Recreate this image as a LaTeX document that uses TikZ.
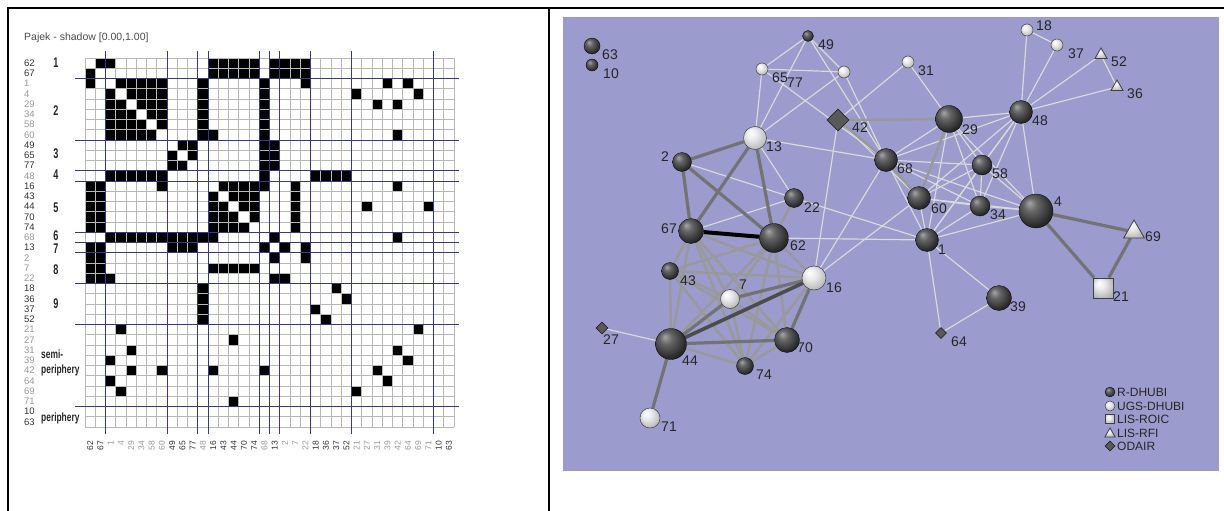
\documentclass[tikz,border=0pt]{standalone}
\usepackage{fontspec}
\setmainfont{Liberation Sans}
\usetikzlibrary{shapes.geometric,backgrounds}

\definecolor{panelbg}{RGB}{155,155,205}
\definecolor{sepblue}{RGB}{55,55,140}
\pgfdeclareradialshading{rballshade}{\pgfqpoint{-10bp}{12bp}}{color(0bp)=(black!35); color(10bp)=(black!60); color(28bp)=(black!85); color(50bp)=(black)}
\pgfdeclareradialshading{uballshade}{\pgfqpoint{-10bp}{12bp}}{color(0bp)=(white); color(12bp)=(black!8); color(32bp)=(black!30); color(50bp)=(black!50)}

\def\lightedges{62/1,67/22,1/4,1/29,1/34,1/58,1/60,1/48,1/68,1/22,1/39,1/64,
4/29,4/34,4/58,4/60,4/48,4/68,29/34,29/58,29/48,29/68,29/31,34/58,34/60,34/48,34/68,
58/60,58/48,58/68,60/48,60/16,60/42,49/65,49/77,49/68,49/13,65/77,65/68,65/13,77/68,77/13,
48/68,48/18,48/36,48/37,48/52,16/68,16/42,44/27,68/13,13/22,2/22,18/37,36/52,31/42,39/64}
\def\midedges{62/16,62/43,62/44,62/70,62/74,62/7,62/22,67/16,67/43,67/44,67/70,67/74,67/7,
43/16,43/44,43/70,43/74,44/74,70/74,16/74,7/43,7/70,7/74,42/29,42/68,29/60,68/60}
\def\darkedges{13/67,13/62,2/67,2/62,13/2,7/16,44/70,16/70,44/71,4/21,21/69,4/69,7/44}
\edef\alledges{\lightedges,\midedges,\darkedges,44/16,62/67}

\begin{document}
\begin{tikzpicture}[x=1pt,y=-1pt,
  cell/.style={fill=black},
  grid line/.style={draw=black!28,line width=0.6pt},
  sep line/.style={draw=sepblue,line width=0.9pt},
  shade0/.style={text=black!80},
  shade1/.style={text=black!40},
  row lbl/.style={font=\fontsize{9.5}{9.5}\selectfont,anchor=west,inner sep=0pt},
  col lbl/.style={font=\fontsize{8.5}{8.5}\selectfont,rotate=90,anchor=east,inner sep=0pt},
  blk lbl/.style={font=\fontsize{14}{14}\selectfont\bfseries,inner sep=0pt,text=black!85},
  rball/.style={circle,shade,shading=rballshade,inner sep=0pt,draw=black,line width=0.3pt},
  uball/.style={circle,shade,shading=uballshade,inner sep=0pt,draw=black!75,line width=0.5pt},
  sqnode/.style={rectangle,shade,shading=uballshade,inner sep=0pt,draw=black!75,line width=0.8pt},
  trinode/.style={regular polygon,regular polygon sides=3,shade,shading=uballshade,inner sep=0pt,draw=black!75,line width=0.8pt},
  dnode/.style={diamond,fill=black!65,inner sep=0pt,draw=black!85,line width=0.6pt},
  net lbl/.style={font=\fontsize{14}{14}\selectfont,text=black!85,inner sep=0pt},
  leg lbl/.style={font=\fontsize{12}{12}\selectfont,text=black!85,inner sep=0pt,anchor=west},
  e light/.style={draw=black!15,line width=1.2pt},
  e mid/.style={draw=black!40,line width=2.4pt},
  e dark/.style={draw=black!55,line width=3.2pt},
  e heavy/.style={draw=black!70,line width=3.6pt},
  e black/.style={draw=black,line width=4pt}]
\useasboundingbox (0,0) rectangle (1224,511);
\draw[line width=2pt] (8,511) -- (8,8) -- (1224,8);
\draw[line width=2pt] (549,8) -- (549,511);

\node[font=\fontsize{10.5}{10.5}\selectfont,text=black!70,anchor=west,inner sep=0pt] (title) at (24,38) {Pajek - shadow [0.00,1.00]};

\foreach \lab/\c [count=\k from 0] in {62/0,67/0,1/1,4/1,29/1,34/1,58/1,60/1,49/0,65/0,77/0,48/1,
  16/0,43/0,44/0,70/0,74/0,68/1,13/0,2/1,7/1,22/1,18/0,36/0,37/0,52/0,21/1,27/1,31/1,39/1,42/1,
  64/1,69/1,71/1,10/0,63/0} {
  \expandafter\xdef\csname ix\lab\endcsname{\k}
  \node[row lbl,shade\c] (r\lab) at (24,{58+(\k+0.5)*10.25}) {\lab};
  \node[col lbl,shade\c] (c\lab) at ({85+(\k+0.5)*10.25},441) {\lab};
}

\foreach \a/\b in \alledges {
  \edef\ri{\csname ix\a\endcsname}
  \edef\rj{\csname ix\b\endcsname}
  \fill[cell] ({85+\rj*10.25},{58+\ri*10.25}) rectangle ++(10.25,10.25);
  \fill[cell] ({85+\ri*10.25},{58+\rj*10.25}) rectangle ++(10.25,10.25);
}
\foreach \k in {0,...,36} {
  \draw[grid line] ({85+\k*10.25},58) -- ({85+\k*10.25},427);
  \draw[grid line] (85,{58+\k*10.25}) -- (454,{58+\k*10.25});
}
\foreach \k in {2,8,11,12,17,18,19,22,26,34} {
  \draw[sep line] (75,{58+\k*10.25}) -- (459,{58+\k*10.25});
  \draw[sep line] ({85+\k*10.25},51) -- ({85+\k*10.25},434);
}

\node[blk lbl] (b1) at (56,63) {\scalebox{0.65}[1]{1}};
\node[blk lbl] (b2) at (56,111) {\scalebox{0.65}[1]{2}};
\node[blk lbl] (b3) at (56,154) {\scalebox{0.65}[1]{3}};
\node[blk lbl] (b4) at (56,175) {\scalebox{0.65}[1]{4}};
\node[blk lbl] (b5) at (56,208) {\scalebox{0.65}[1]{5}};
\node[blk lbl] (b6) at (56,236) {\scalebox{0.65}[1]{6}};
\node[blk lbl] (b7) at (56,249) {\scalebox{0.65}[1]{7}};
\node[blk lbl] (b8) at (56,270) {\scalebox{0.65}[1]{8}};
\node[blk lbl] (b9) at (56,304) {\scalebox{0.65}[1]{9}};
\node[blk lbl,anchor=west,font=\fontsize{12}{12}\selectfont\bfseries] (bsemi) at (41,354) {\scalebox{0.7}[1]{semi-}};
\node[blk lbl,anchor=west,font=\fontsize{12}{12}\selectfont\bfseries] (bsemi2) at (41,370) {\scalebox{0.7}[1]{periphery}};
\node[blk lbl,anchor=west,font=\fontsize{12}{12}\selectfont\bfseries] (bper) at (41,418) {\scalebox{0.7}[1]{periphery}};

\node[rball,minimum size=16pt] (n63) at (592,46) {};
\node[rball,minimum size=12pt] (n10) at (592,65) {};
\node[rball,minimum size=11pt] (n49) at (808,36) {};
\node[uball,minimum size=12pt] (n65) at (762,69) {};
\node[uball,minimum size=12pt] (n77) at (844,72) {};
\node[dnode,minimum size=22pt] (n42) at (838,120) {};
\node[uball,minimum size=23pt] (n13) at (755,138) {};
\node[rball,minimum size=19pt] (n2) at (682,162) {};
\node[rball,minimum size=19pt] (n22) at (794,198) {};
\node[rball,minimum size=25pt] (n67) at (691,231) {};
\node[rball,minimum size=29pt] (n62) at (774,238) {};
\node[rball,minimum size=17pt] (n43) at (670,271) {};
\node[uball,minimum size=19pt] (n7) at (730,299) {};
\node[uball,minimum size=24pt] (n16) at (814,278) {};
\node[dnode,minimum size=12pt] (n27) at (602,328) {};
\node[rball,minimum size=31pt] (n44) at (671,344) {};
\node[rball,minimum size=25pt] (n70) at (787,340) {};
\node[rball,minimum size=17pt] (n74) at (745,366) {};
\node[uball,minimum size=20pt] (n71) at (650,418) {};
\node[uball,minimum size=12pt] (n18) at (1027,30) {};
\node[uball,minimum size=12pt] (n37) at (1057,45) {};
\node[trinode,minimum size=14pt] (n52) at (1101,55) {};
\node[trinode,minimum size=14pt] (n36) at (1117,87) {};
\node[uball,minimum size=12pt] (n31) at (908,62) {};
\node[rball,minimum size=27pt] (n29) at (949,119) {};
\node[rball,minimum size=23pt] (n48) at (1021,112) {};
\node[rball,minimum size=23pt] (n68) at (886,160) {};
\node[rball,minimum size=20pt] (n58) at (982,165) {};
\node[rball,minimum size=23pt] (n60) at (919,198) {};
\node[rball,minimum size=20pt] (n34) at (980,206) {};
\node[rball,minimum size=34pt] (n4) at (1036,211) {};
\node[trinode,minimum size=24pt] (n69) at (1134,232) {};
\node[rball,minimum size=23pt] (n1) at (927,240) {};
\node[rball,minimum size=25pt] (n39) at (999,298) {};
\node[dnode,minimum size=11pt] (n64) at (941,333) {};
\node[sqnode,minimum size=20pt] (n21) at (1103,288) {};

\node[net lbl] (t63) at (610,55) {63};
\node[net lbl] (t10) at (611,74) {10};
\node[net lbl] (t49) at (826,45) {49};
\node[net lbl] (t65) at (780,78) {65};
\node[net lbl] (t77) at (795,83) {77};
\node[net lbl] (t42) at (860,128) {42};
\node[net lbl] (t13) at (774,147) {13};
\node[net lbl] (t2) at (665,157) {2};
\node[net lbl] (t22) at (812,208) {22};
\node[net lbl] (t67) at (669,229) {67};
\node[net lbl] (t62) at (798,246) {62};
\node[net lbl] (t43) at (688,281) {43};
\node[net lbl] (t7) at (743,285) {7};
\node[net lbl] (t16) at (834,288) {16};
\node[net lbl] (t27) at (611,340) {27};
\node[net lbl] (t44) at (690,361) {44};
\node[net lbl] (t70) at (805,348) {70};
\node[net lbl] (t74) at (764,375) {74};
\node[net lbl] (t71) at (669,427) {71};
\node[net lbl] (t18) at (1044,26) {18};
\node[net lbl] (t37) at (1076,54) {37};
\node[net lbl] (t52) at (1119,62) {52};
\node[net lbl] (t36) at (1135,94) {36};
\node[net lbl] (t31) at (926,71) {31};
\node[net lbl] (t29) at (970,130) {29};
\node[net lbl] (t48) at (1040,121) {48};
\node[net lbl] (t68) at (905,169) {68};
\node[net lbl] (t58) at (1000,174) {58};
\node[net lbl] (t60) at (939,209) {60};
\node[net lbl] (t34) at (998,215) {34};
\node[net lbl] (t4) at (1058,202) {4};
\node[net lbl] (t69) at (1153,237) {69};
\node[net lbl] (t1) at (942,250) {1};
\node[net lbl] (t39) at (1018,307) {39};
\node[net lbl] (t64) at (959,342) {64};
\node[net lbl] (t21) at (1121,297) {21};

\node[rball,minimum size=10pt] (k1) at (1110,392) {};
\node[uball,minimum size=10pt] (k2) at (1110,406) {};
\node[sqnode,minimum size=9pt] (k3) at (1110,419) {};
\node[trinode,minimum size=12pt] (k4) at (1110,434) {};
\node[dnode,minimum size=10pt] (k5) at (1110,446) {};
\node[leg lbl] (kt1) at (1117,392) {R-DHUBI};
\node[leg lbl] (kt2) at (1117,406) {UGS-DHUBI};
\node[leg lbl] (kt3) at (1117,419) {LIS-ROIC};
\node[leg lbl] (kt4) at (1117,433) {LIS-RFI};
\node[leg lbl] (kt5) at (1117,446) {ODAIR};

\begin{pgfonlayer}{background}
\fill[white] (0,0) rectangle (1224,511);
\fill[panelbg] (563,17) rectangle (1219,471);
\foreach \a/\b in \lightedges {\draw[e light] (n\a) -- (n\b);}
\foreach \a/\b in \midedges {\draw[e mid] (n\a) -- (n\b);}
\foreach \a/\b in \darkedges {\draw[e dark] (n\a) -- (n\b);}
\draw[e heavy] (n44) -- (n16);
\draw[e black] (n62) -- (n67);
\end{pgfonlayer}
\end{tikzpicture}
\end{document}
